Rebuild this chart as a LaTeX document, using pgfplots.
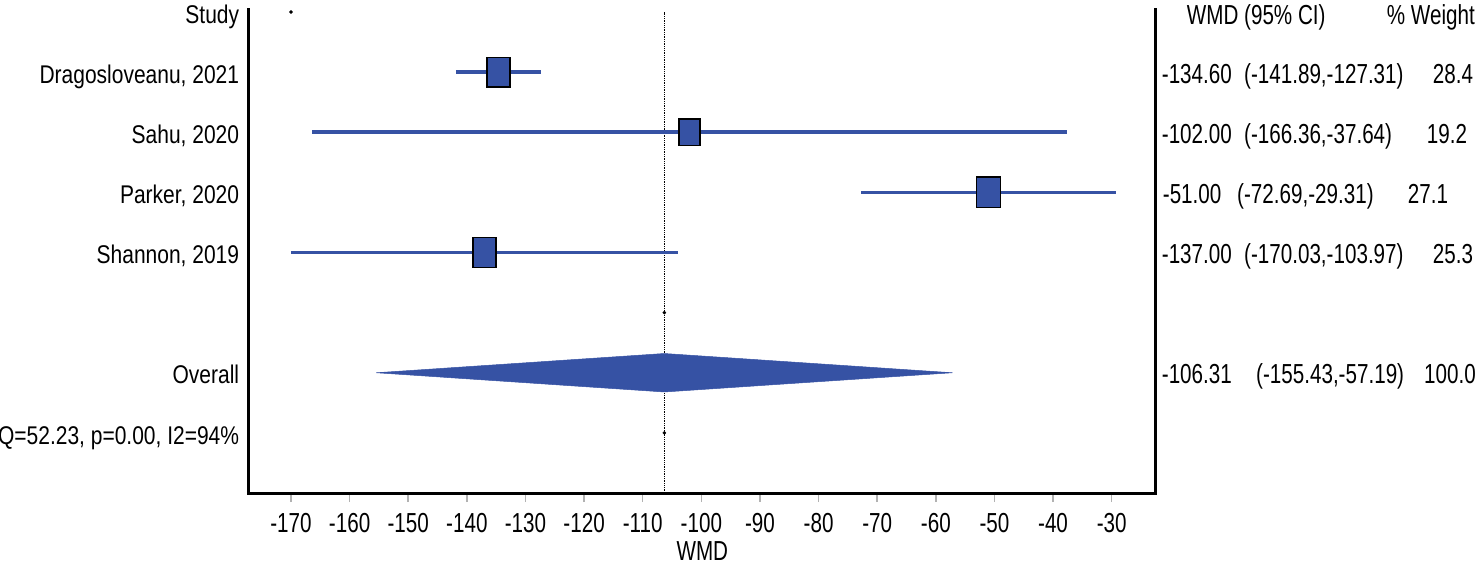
\documentclass[border=0pt]{standalone}
\usepackage{fontspec}
\setmainfont[FakeStretch=0.75]{Liberation Sans}
\newfontfamily\labfont[FakeStretch=0.82]{Liberation Sans}
\usepackage{pgfplots}
\pgfplotsset{compat=1.18}
\definecolor{fblue}{RGB}{54,82,164}
\newcommand{\rf}{\fontsize{27.5}{30}\selectfont}
\newcommand{\lf}{\labfont\fontsize{25.6}{28}\selectfont}

\begin{document}
\begin{tikzpicture}
\begin{axis}[name=ax, scale only axis, width=906.7pt, height=483pt,
  xmin=-177.165, xmax=-22.49, ymin=0, ymax=8.033,
  axis x line*=bottom, axis y line=none, x axis line style={draw=none},
  xtick={-170,-160,-150,-140,-130,-120,-110,-100,-90,-80,-70,-60,-50,-40,-30},
  xticklabels={-170,-160,-150,-140,-130,-120,-110,-100,-90,-80,-70,-60,-50,-40,-30},
  ytick=\empty,
  tick align=outside, major tick length=9pt,
  every tick/.style={draw=gray!60, line width=1.5pt},
  xticklabel style={font=\rf, anchor=north, inner sep=0pt, yshift=-11pt},
  xlabel={WMD},
  every axis x label/.style={at={(rel axis cs:0.5,0)}, anchor=north, inner sep=0pt, yshift=-48.7pt, font=\rf},
  clip=false]

% reference line
\addplot[black, densely dotted, line width=1.3pt] coordinates {(-106.31,0) (-106.31,8)};

% confidence intervals
\addplot[fblue, line width=3.5pt] coordinates {(-141.89,7) (-127.31,7)};
\addplot[fblue, line width=3.5pt] coordinates {(-166.36,6) (-37.64,6)};
\addplot[fblue, line width=3.5pt] coordinates {(-72.69,5) (-29.31,5)};
\addplot[fblue, line width=3.5pt] coordinates {(-170.03,4) (-103.97,4)};

% study estimates
\addplot[only marks, mark=square*, mark size=14.8pt, mark options={xscale=0.78, fill=fblue, draw=black, line width=1.5pt}] coordinates {(-134.60,7)};
\addplot[only marks, mark=square*, mark size=13.3pt, mark options={xscale=0.78, fill=fblue, draw=black, line width=1.5pt}] coordinates {(-102.00,6)};
\addplot[only marks, mark=square*, mark size=15.3pt, mark options={xscale=0.78, fill=fblue, draw=black, line width=1.5pt}] coordinates {(-51.00,5)};
\addplot[only marks, mark=square*, mark size=14.8pt, mark options={xscale=0.78, fill=fblue, draw=black, line width=1.5pt}] coordinates {(-137.00,4)};

% overall diamond
\addplot[fill=fblue, draw=fblue, line width=0.5pt] coordinates {(-155.43,2) (-106.31,2.32) (-57.19,2) (-106.31,1.68)} -- cycle;

% small dots
\addplot[only marks, mark=*, mark size=1.6pt, black] coordinates {(-170,8) (-106.31,3) (-106.31,1)};

% axis frame (no top line)
\draw[line width=3pt, line cap=rect] (rel axis cs:0,1) -- (rel axis cs:0,0) -- (rel axis cs:1,0) -- (rel axis cs:1,1);

% left labels
\node[anchor=base east, inner sep=0pt, font=\lf] at (axis cs:-178.82,7.814) {Study};
\node[anchor=base east, inner sep=0pt, font=\lf] at (axis cs:-178.82,6.814) {Dragosloveanu, 2021};
\node[anchor=base east, inner sep=0pt, font=\lf] at (axis cs:-178.82,5.814) {Sahu, 2020};
\node[anchor=base east, inner sep=0pt, font=\lf] at (axis cs:-178.82,4.814) {Parker, 2020};
\node[anchor=base east, inner sep=0pt, font=\lf] at (axis cs:-178.82,3.814) {Shannon, 2019};
\node[anchor=base east, inner sep=0pt, font=\lf] at (axis cs:-178.82,1.814) {Overall};
\node[anchor=base east, inner sep=0pt, font=\lf] at (axis cs:-178.82,0.814) {Q=52.23, p=0.00, I2=94\%};

% right headers
\node[anchor=base west, inner sep=0pt, font=\rf] at (axis cs:-17.20,7.79) {WMD (95\% CI)};
\node[anchor=base west, inner sep=0pt, font=\rf] at (axis cs:16.92,7.79) {\% Weight};

% right columns
\node[anchor=base west, inner sep=0pt, font=\rf] at (axis cs:-21.47,6.814) {-134.60};
\node[anchor=base west, inner sep=0pt, font=\rf] at (axis cs:-7.43,6.814) {(-141.89,-127.31)};
\node[anchor=base, inner sep=0pt, font=\rf] at (axis cs:28.23,6.814) {28.4};

\node[anchor=base west, inner sep=0pt, font=\rf] at (axis cs:-21.47,5.814) {-102.00};
\node[anchor=base west, inner sep=0pt, font=\rf] at (axis cs:-7.43,5.814) {(-166.36,-37.64)};
\node[anchor=base, inner sep=0pt, font=\rf] at (axis cs:27.21,5.814) {19.2};

\node[anchor=base west, inner sep=0pt, font=\rf] at (axis cs:-21.30,4.814) {-51.00};
\node[anchor=base west, inner sep=0pt, font=\rf] at (axis cs:-8.62,4.814) {(-72.69,-29.31)};
\node[anchor=base, inner sep=0pt, font=\rf] at (axis cs:23.96,4.814) {27.1};

\node[anchor=base west, inner sep=0pt, font=\rf] at (axis cs:-21.47,3.814) {-137.00};
\node[anchor=base west, inner sep=0pt, font=\rf] at (axis cs:-7.43,3.814) {(-170.03,-103.97)};
\node[anchor=base, inner sep=0pt, font=\rf] at (axis cs:28.23,3.814) {25.3};

\node[anchor=base west, inner sep=0pt, font=\rf] at (axis cs:-21.47,1.814) {-106.31};
\node[anchor=base west, inner sep=0pt, font=\rf] at (axis cs:-5.38,1.814) {(-155.43,-57.19)};
\node[anchor=base, inner sep=0pt, font=\rf] at (axis cs:27.71,1.814) {100.0};
\end{axis}
\pgfresetboundingbox
\path[use as bounding box] ([shift={(-249pt,-73pt)}]ax.south west) rectangle ([shift={(1231pt,493pt)}]ax.south west);
\end{tikzpicture}
\end{document}
